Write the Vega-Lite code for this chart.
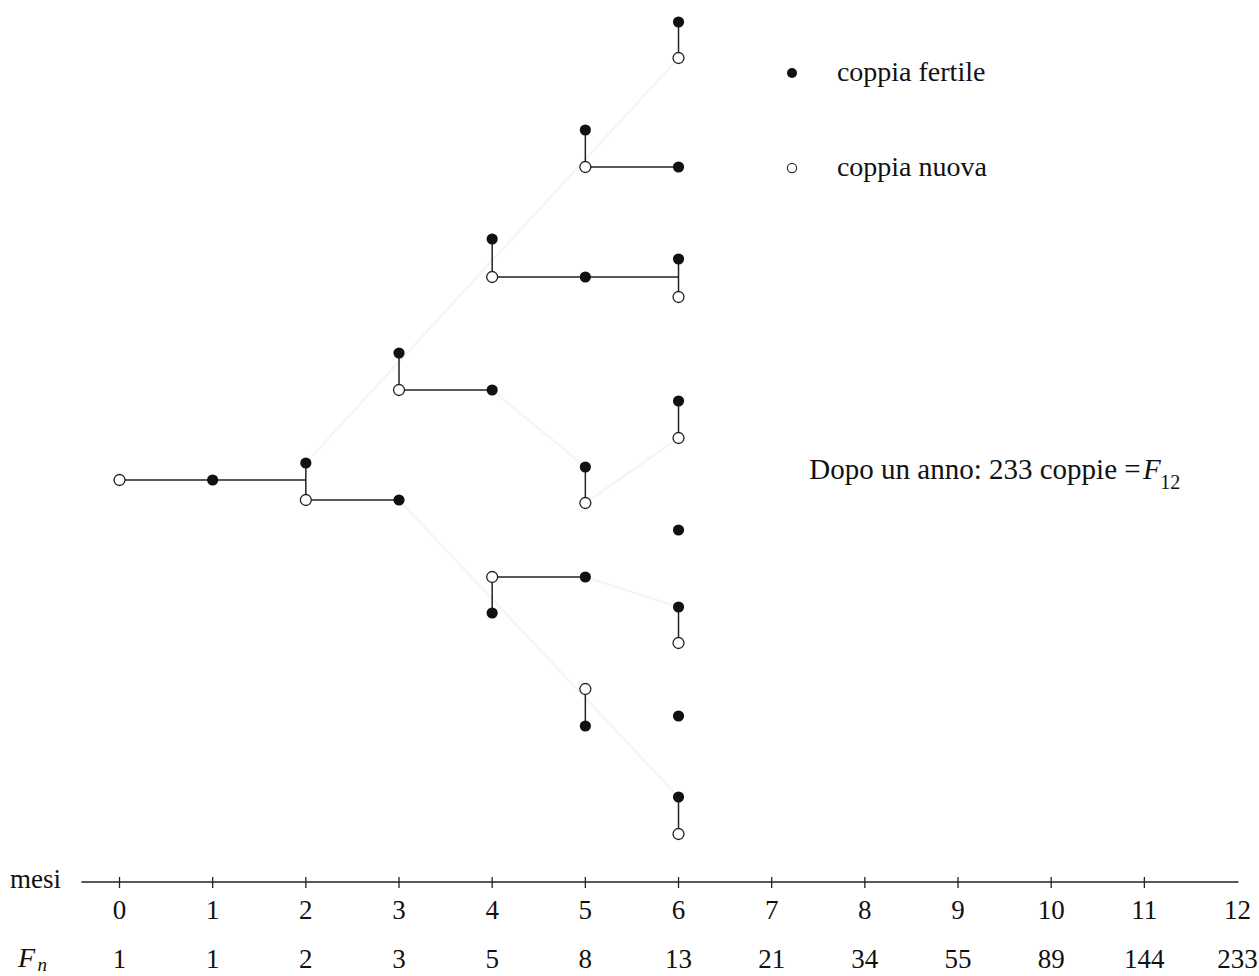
{
  "$schema": "https://vega.github.io/schema/vega-lite/v6.json",
  "width": 1259,
  "height": 976,
  "autosize": {"type": "none"},
  "padding": 0,
  "background": "white",
  "config": {"view": {"stroke": null}, "text": {"font": "Liberation Serif", "color": "#111111"}},
  "datasets": {
    "fertile": [
      {"m": 1, "h": 402},
      {"m": 2, "h": 419},
      {"m": 3, "h": 529}, {"m": 3, "h": 382},
      {"m": 4, "h": 643}, {"m": 4, "h": 492}, {"m": 4, "h": 269},
      {"m": 5, "h": 752}, {"m": 5, "h": 605}, {"m": 5, "h": 415}, {"m": 5, "h": 305}, {"m": 5, "h": 156},
      {"m": 6, "h": 860}, {"m": 6, "h": 715}, {"m": 6, "h": 623}, {"m": 6, "h": 481}, {"m": 6, "h": 352}, {"m": 6, "h": 275}, {"m": 6, "h": 166}, {"m": 6, "h": 85}
    ],
    "nuova": [
      {"m": 0, "h": 402},
      {"m": 2, "h": 382},
      {"m": 3, "h": 492},
      {"m": 4, "h": 605}, {"m": 4, "h": 305},
      {"m": 5, "h": 715}, {"m": 5, "h": 379}, {"m": 5, "h": 193},
      {"m": 6, "h": 824}, {"m": 6, "h": 585}, {"m": 6, "h": 444}, {"m": 6, "h": 239}, {"m": 6, "h": 48}
    ],
    "edges": [
      {"m1": 0, "h1": 402, "m2": 2, "h2": 402},
      {"m1": 2, "h1": 419, "m2": 2, "h2": 382},
      {"m1": 2, "h1": 382, "m2": 3, "h2": 382},
      {"m1": 3, "h1": 529, "m2": 3, "h2": 492},
      {"m1": 3, "h1": 492, "m2": 4, "h2": 492},
      {"m1": 4, "h1": 643, "m2": 4, "h2": 605},
      {"m1": 4, "h1": 605, "m2": 6, "h2": 605},
      {"m1": 6, "h1": 623, "m2": 6, "h2": 585},
      {"m1": 4, "h1": 305, "m2": 4, "h2": 269},
      {"m1": 4, "h1": 305, "m2": 5, "h2": 305},
      {"m1": 5, "h1": 752, "m2": 5, "h2": 715},
      {"m1": 5, "h1": 715, "m2": 6, "h2": 715},
      {"m1": 5, "h1": 415, "m2": 5, "h2": 379},
      {"m1": 5, "h1": 193, "m2": 5, "h2": 156},
      {"m1": 6, "h1": 860, "m2": 6, "h2": 824},
      {"m1": 6, "h1": 481, "m2": 6, "h2": 444},
      {"m1": 6, "h1": 275, "m2": 6, "h2": 239},
      {"m1": 6, "h1": 85, "m2": 6, "h2": 48}
    ],
    "faint": [
      {"m1": 2, "h1": 419, "m2": 6, "h2": 824},
      {"m1": 3, "h1": 382, "m2": 6, "h2": 85},
      {"m1": 4, "h1": 492, "m2": 5, "h2": 415},
      {"m1": 5, "h1": 379, "m2": 6, "h2": 444},
      {"m1": 5, "h1": 305, "m2": 6, "h2": 275}
    ],
    "months": [
      {"m": 0, "fn": "1"}, {"m": 1, "fn": "1"}, {"m": 2, "fn": "2"}, {"m": 3, "fn": "3"},
      {"m": 4, "fn": "5"}, {"m": 5, "fn": "8"}, {"m": 6, "fn": "13"}, {"m": 7, "fn": "21"},
      {"m": 8, "fn": "34"}, {"m": 9, "fn": "55"}, {"m": 10, "fn": "89"}, {"m": 11, "fn": "144"},
      {"m": 12, "fn": "233"}
    ],
    "ticks": [
      {"m": 0}, {"m": 1}, {"m": 2}, {"m": 3}, {"m": 4}, {"m": 5}, {"m": 6},
      {"m": 7}, {"m": 8}, {"m": 9}, {"m": 10}, {"m": 11}
    ],
    "axisline": [{"m1": -0.41, "m2": 12.01}],
    "legend": [
      {"m": 7.218, "h": 809, "tm": 7.70, "th": 801, "label": "coppia fertile", "kind": "fertile"},
      {"m": 7.218, "h": 714, "tm": 7.70, "th": 706, "label": "coppia nuova", "kind": "nuova"}
    ],
    "notes": [
      {"m": 10.96, "h": 403, "label": "Dopo un anno: 233 coppie ="}
    ]
  },
  "layer": [
    {
      "data": {"name": "faint"},
      "mark": {"type": "rule", "color": "#f5f5f5", "strokeWidth": 2.5},
      "encoding": {
        "x": {"field": "m1", "type": "quantitative", "scale": {"domain": [-1.2826, 12.2304], "nice": false, "zero": false}, "axis": null},
        "x2": {"field": "m2"},
        "y": {"field": "h1", "type": "quantitative", "scale": {"domain": [-94, 882], "nice": false, "zero": false}, "axis": null},
        "y2": {"field": "h2"}
      }
    },
    {
      "data": {"name": "edges"},
      "mark": {"type": "rule", "color": "#222222", "strokeWidth": 1.5},
      "encoding": {
        "x": {"field": "m1", "type": "quantitative", "scale": {"domain": [-1.2826, 12.2304], "nice": false, "zero": false}, "axis": null},
        "x2": {"field": "m2"},
        "y": {"field": "h1", "type": "quantitative", "scale": {"domain": [-94, 882], "nice": false, "zero": false}, "axis": null},
        "y2": {"field": "h2"}
      }
    },
    {
      "data": {"name": "nuova"},
      "mark": {"type": "circle", "fill": "white", "stroke": "#222222", "strokeWidth": 1.3, "opacity": 1, "size": 120},
      "encoding": {
        "x": {"field": "m", "type": "quantitative"},
        "y": {"field": "h", "type": "quantitative"}
      }
    },
    {
      "data": {"name": "fertile"},
      "mark": {"type": "circle", "color": "#111111", "opacity": 1, "size": 125},
      "encoding": {
        "x": {"field": "m", "type": "quantitative"},
        "y": {"field": "h", "type": "quantitative"}
      }
    },
    {
      "data": {"name": "axisline"},
      "mark": {"type": "rule", "color": "#222222", "strokeWidth": 1.6},
      "encoding": {
        "x": {"field": "m1", "type": "quantitative"},
        "x2": {"field": "m2"},
        "y": {"datum": 0, "type": "quantitative"}
      }
    },
    {
      "data": {"name": "ticks"},
      "mark": {"type": "rule", "color": "#222222", "strokeWidth": 1.3},
      "encoding": {
        "x": {"field": "m", "type": "quantitative"},
        "y": {"datum": 5, "type": "quantitative"},
        "y2": {"datum": -6}
      }
    },
    {
      "data": {"name": "months"},
      "mark": {"type": "text", "font": "Liberation Serif", "fontSize": 27, "align": "center", "baseline": "alphabetic"},
      "encoding": {
        "x": {"field": "m", "type": "quantitative"},
        "y": {"datum": -37, "type": "quantitative"},
        "text": {"field": "m", "type": "quantitative"}
      }
    },
    {
      "data": {"name": "months"},
      "mark": {"type": "text", "font": "Liberation Serif", "fontSize": 27, "align": "center", "baseline": "alphabetic"},
      "encoding": {
        "x": {"field": "m", "type": "quantitative"},
        "y": {"datum": -86, "type": "quantitative"},
        "text": {"field": "fn", "type": "nominal"}
      }
    },
    {
      "data": {"values": [{"m": -1.175, "label": "mesi"}]},
      "mark": {"type": "text", "font": "Liberation Serif", "fontSize": 27, "align": "left", "baseline": "alphabetic"},
      "encoding": {
        "x": {"field": "m", "type": "quantitative"},
        "y": {"datum": -6, "type": "quantitative"},
        "text": {"field": "label", "type": "nominal"}
      }
    },
    {
      "data": {"values": [{"m": -1.09, "label": "F"}]},
      "mark": {"type": "text", "font": "Liberation Serif", "fontSize": 28, "fontStyle": "italic", "align": "left", "baseline": "alphabetic"},
      "encoding": {
        "x": {"field": "m", "type": "quantitative"},
        "y": {"datum": -85, "type": "quantitative"},
        "text": {"field": "label", "type": "nominal"}
      }
    },
    {
      "data": {"values": [{"m": -0.88, "label": "n"}]},
      "mark": {"type": "text", "font": "Liberation Serif", "fontSize": 19, "fontStyle": "italic", "align": "left", "baseline": "alphabetic"},
      "encoding": {
        "x": {"field": "m", "type": "quantitative"},
        "y": {"datum": -89, "type": "quantitative"},
        "text": {"field": "label", "type": "nominal"}
      }
    },
    {
      "data": {"name": "legend"},
      "transform": [{"filter": "datum.kind == 'fertile'"}],
      "mark": {"type": "circle", "color": "#111111", "opacity": 1, "size": 100},
      "encoding": {
        "x": {"field": "m", "type": "quantitative"},
        "y": {"field": "h", "type": "quantitative"}
      }
    },
    {
      "data": {"name": "legend"},
      "transform": [{"filter": "datum.kind == 'nuova'"}],
      "mark": {"type": "circle", "fill": "white", "stroke": "#333333", "strokeWidth": 1.2, "opacity": 1, "size": 85},
      "encoding": {
        "x": {"field": "m", "type": "quantitative"},
        "y": {"field": "h", "type": "quantitative"}
      }
    },
    {
      "data": {"name": "legend"},
      "mark": {"type": "text", "font": "Liberation Serif", "fontSize": 28, "align": "left", "baseline": "alphabetic"},
      "encoding": {
        "x": {"field": "tm", "type": "quantitative"},
        "y": {"field": "th", "type": "quantitative"},
        "text": {"field": "label", "type": "nominal"}
      }
    },
    {
      "data": {"name": "notes"},
      "mark": {"type": "text", "font": "Liberation Serif", "fontSize": 29, "align": "right", "baseline": "alphabetic"},
      "encoding": {
        "x": {"field": "m", "type": "quantitative"},
        "y": {"field": "h", "type": "quantitative"},
        "text": {"field": "label", "type": "nominal"}
      }
    },
    {
      "data": {"values": [{"m": 10.985, "h": 403, "label": "F"}]},
      "mark": {"type": "text", "font": "Liberation Serif", "fontSize": 29, "fontStyle": "italic", "align": "left", "baseline": "alphabetic"},
      "encoding": {
        "x": {"field": "m", "type": "quantitative"},
        "y": {"field": "h", "type": "quantitative"},
        "text": {"field": "label", "type": "nominal"}
      }
    },
    {
      "data": {"values": [{"m": 11.17, "h": 393, "label": "12"}]},
      "mark": {"type": "text", "font": "Liberation Serif", "fontSize": 20, "align": "left", "baseline": "alphabetic"},
      "encoding": {
        "x": {"field": "m", "type": "quantitative"},
        "y": {"field": "h", "type": "quantitative"},
        "text": {"field": "label", "type": "nominal"}
      }
    }
  ]
}
